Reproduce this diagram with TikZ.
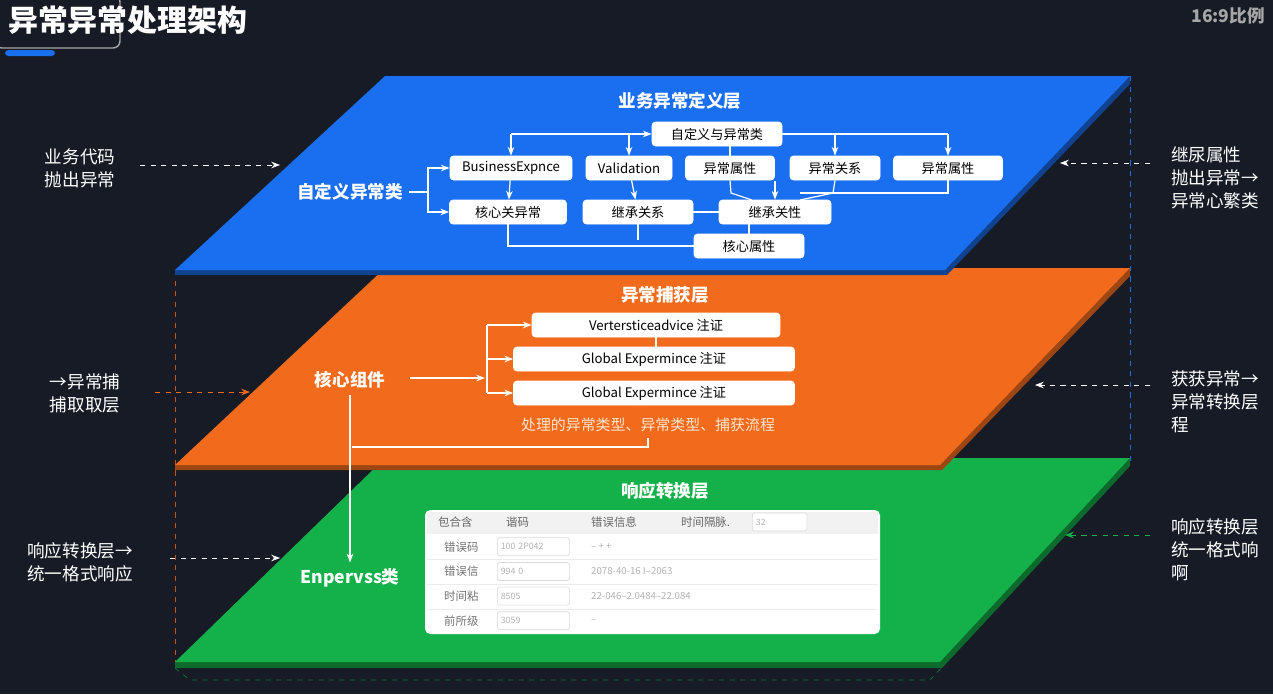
\documentclass[tikz,border=0pt]{standalone}
\usepackage{fontspec}
\setmainfont{Noto Sans CJK SC}
\usetikzlibrary{arrows.meta,positioning}
\definecolor{bg}{HTML}{161B26}
\definecolor{layerblue}{HTML}{1A6EF0}
\definecolor{layerorange}{HTML}{F26B1D}
\definecolor{layergreen}{HTML}{14B14A}
\tikzset{
  wbox/.style={draw=white, fill=white, rounded corners=2pt, text=black, font=\fontsize{7.5}{9}\selectfont, inner sep=0pt, minimum height=0.48cm},
  wline/.style={white, line width=0.7pt},
  warrow/.style={wline, -{Stealth[length=5pt]}},
  ttl/.style={text=white, font=\bfseries\fontsize{10}{12}\selectfont},
  side/.style={text=white, font=\fontsize{10}{13}\selectfont, align=left},
  cell/.style={text=gray!80!black, font=\fontsize{6.5}{8}\selectfont},
  drop/.style={draw=gray!30, fill=white, rounded corners=1pt, text width=1.3cm, minimum height=0.36cm, inner sep=2pt, align=left, font=\fontsize{5}{6}\selectfont, text=gray!60}
}
\begin{document}
\begin{tikzpicture}[x={(0.02cm,0)}, y={(0,-0.02cm)}]

                % Background
                \fill[bg] (0,0) rectangle (1273,694);
                \useasboundingbox (0,0) rectangle (1273,694);
                \draw[gray!70, rounded corners=4pt, line width=0.8pt] (-5,-5) rectangle (120,48);
                \fill[layerblue, rounded corners=2pt] (5,50) rectangle (55,56);
                \node[text=white, font=\bfseries\fontsize{17}{20}\selectfont, anchor=west] (title) at (2,20) {异常异常处理架构};
                \node[text=gray!70, font=\bfseries\fontsize{10}{12}\selectfont, anchor=east] (ratio) at (1271,16) {16:9比例};

                % Dashed guide lines
                \draw[layerorange!80!black, dashed] (175,270) -- (175,665);
                \draw[layergreen!70!black, dashed] (175,668) -- (190,680) -- (930,680) -- (1065,535);
                \draw[layerblue, dashed] (1130,76) -- (1130,462);

                % Draw layers
                \fill[layergreen!60!black] (175,662) -- (940,662) -- (1130,458) -- (1130,466) -- (942,668) -- (175,668) -- cycle;
                \fill[layergreen] (385,458) -- (1130,458) -- (940,662) -- (175,662) -- cycle;
                \fill[layerorange!65!black] (175,465) -- (940,465) -- (1130,268) -- (1130,276) -- (942,470) -- (175,470) -- cycle;
                \fill[layerorange] (385,268) -- (1130,268) -- (940,465) -- (175,465) -- cycle;
                \fill[layerblue!60!black] (175,270) -- (945,270) -- (1130,76) -- (1130,84) -- (947,275) -- (175,275) -- cycle;
                \fill[layerblue] (385,76) -- (1130,76) -- (945,270) -- (175,270) -- cycle;

                % Business layer
                \node[ttl] (bizttl) at (680,101) {业务异常定义层};
                \node[text=white, font=\bfseries\fontsize{10}{12}\selectfont] (custom) at (350,192) {自定义异常类};
                \node[wbox, minimum width=2.6cm] (base) at (717,134) {自定义与异常类};
                \node[wbox, minimum width=2.44cm] (bizexc) at (511,168) {BusinessExpnce};
                \node[wbox, minimum width=1.72cm] (valid) at (629,168) {Validation};
                \node[wbox, minimum width=1.78cm] (attr1) at (730,168) {异常属性};
                \node[wbox, minimum width=1.8cm] (rel) at (835,168) {异常关系};
                \node[wbox, minimum width=2.18cm] (attr2) at (948,168) {异常属性};
                \node[wbox, minimum width=2.34cm] (core) at (508,212) {核心关异常};
                \node[wbox, minimum width=2.2cm] (inhrel) at (638,212) {继承关系};
                \node[wbox, minimum width=2.24cm] (inhattr) at (775,212) {继承关性};
                \node[wbox, minimum width=2.2cm] (coreattr) at (749,246) {核心属性};

                \draw[wline] (custom.east) -- (428,192) coordinate (fork);
                \draw[warrow] (fork) |- (bizexc.west);
                \draw[warrow] (fork) |- (core.west);
                \draw[warrow] (511,134) -- (base.west);
                \draw[warrow] (511,134) -- (bizexc.north);
                \draw[warrow] (629,134) -- (valid.north);
                \draw[wline] (base.south -| attr1) -- (attr1.north);
                \draw[wline] (base.east) -- (948,134);
                \draw[warrow] (948,134) -- (attr2.north);
                \draw[warrow] (835,134) -- (rel.north);
                \draw[warrow] (bizexc) -- (core);
                \draw[warrow] (valid) -- (inhrel);
                \draw[warrow] (775,181) -- (inhattr.north);
                \draw[wline] (attr1.south) -- (731,193) -- (752,200);
                \draw[wline] (rel.south) -- (833,193) -- (800,200);
                \draw[wline] (attr2.south) -- (948,193) -- (800,193);
                \draw[wline] (inhrel) -- (inhattr);
                \draw[wline] (core.south) |- (coreattr.west);
                \draw[wline] (inhrel.south) -- (638,240);
                \draw[wline] (inhattr.south -| coreattr) -- (coreattr.north);

                % Catch layer
                \node[ttl] (catchttl) at (665,295) {异常捕获层};
                \node[text=white, font=\bfseries\fontsize{10}{12}\selectfont] (comp) at (350,380) {核心组件};
                \node[wbox, minimum width=4.96cm] (advice) at (656,325) {Vertersticeadvice 注证};
                \node[wbox, minimum width=5.62cm] (glob1) at (654,359) {Global Expermince 注证};
                \node[wbox, minimum width=5.62cm] (glob2) at (654,393) {Global Expermince 注证};
                \node[text=orange!20, font=\fontsize{8.5}{10}\selectfont] (flow) at (648,425) {处理的异常类型、异常类型、捕获流程};
                \draw[warrow] (410,378) -- (485,378);
                \draw[wline] (487,325) -- (487,393);
                \draw[warrow] (487,325) -- (advice.west);
                \draw[warrow] (487,359) -- (glob1.west);
                \draw[warrow] (487,393) -- (glob2.west);
                \draw[wline] (advice.south) -- (glob1.north -| advice.south);
                \draw[wline] (352,447) -| (flow.south);

                % Response layer
                \node[ttl] (respttl) at (665,491) {响应转换层};
                \node[text=white, font=\bfseries\fontsize{10}{12}\selectfont] (enp) at (350,578) {Enpervss类};
                \draw[warrow] (comp.south) -- (enp.north);
                \fill[white, rounded corners=3pt] (425,510) rectangle (880,634);
                \fill[gray!10] (427,512) rectangle (878,534);
                \foreach \y in {559,584,609} \draw[gray!15] (427,\y) -- (878,\y);
                \node[cell, anchor=west] (h1) at (432,522) {包合含};
                \node[cell, anchor=west] (h2) at (500,522) {谐码};
                \node[cell, anchor=west] (h3) at (585,522) {错误信息};
                \node[cell, anchor=west] (h4) at (675,522) {时间隔脉.};
                \node[drop, text width=0.95cm, anchor=west] (hd) at (752,522) {32};
                \foreach \lab/\val/\txt [count=\i] in {错误码/100 2P042/-- + +, 错误信/994 0/2078-40-16 I--2063, 时间粘/8505/22-046--2.0484--22.084, 前所级/3059/--}{
                  \node[cell, text=gray!90!black, anchor=west] (r\i) at (438,522+\i*24.7) {\lab};
                  \node[drop, anchor=west] (d\i) at (497,522+\i*24.7) {\val};
                  \node[cell, text=gray!60, font=\fontsize{5.5}{7}\selectfont, anchor=west] (t\i) at (585,522+\i*24.7) {\txt};
                }

                % Side labels
                \node[side] (l1) at (80,168) {业务代码\\抛出异常};
                \node[side] (l2) at (85,393) {→异常捕\\捕取取层};
                \node[side] (l3) at (80,562) {响应转换层→\\统一格式响应};
                \node[side] (r1) at (1215,178) {继尿属性\\抛出异常→\\异常心繁类};
                \node[side] (r2) at (1215,402) {获获异常→\\异常转换层\\程};
                \node[side] (r3) at (1215,550) {响应转换层\\统一格式响\\啊};
                \draw[white!80, dashed, -{Stealth[length=5pt]}] (140,165) -- (280,165);
                \draw[layerorange, dashed, -{Stealth[length=5pt]}] (155,392) -- (250,392);
                \draw[white!80, dashed, -{Stealth[length=5pt]}] (170,558) -- (280,558);
                \draw[white!80, dashed, -{Stealth[length=5pt]}] (1150,163) -- (1060,163);
                \draw[white!80, dashed, -{Stealth[length=5pt]}] (1150,385) -- (1035,385);
                \draw[layergreen, dashed, -{Stealth[length=5pt]}] (1150,535) -- (1065,535);

\end{tikzpicture}
\end{document}
